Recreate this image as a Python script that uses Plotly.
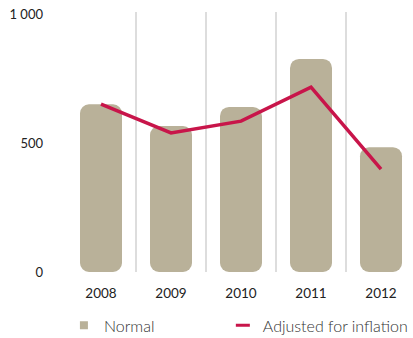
import plotly.graph_objects as go

years = ["2008", "2009", "2010", "2011", "2012"]
normal = [650, 566, 640, 826, 484]
adjusted = [651, 539, 585, 717, 399]
y_tickvals = [0, 500, 1000]
y_ticktext = ["0", "500", "1 000"]

BAR = "#b9b199"
LINE = "#c8154a"
TXT = "#222222"

fig = go.Figure()
fig.add_trace(go.Bar(x=years, y=normal, base=[0] * len(normal),
                     marker=dict(color=BAR, cornerradius=9, line=dict(width=0)),
                     width=0.6, name="Normal", hoverinfo="skip", showlegend=False))
fig.add_trace(go.Scatter(x=years, y=adjusted, mode="lines", line=dict(color=LINE, width=3.5),
                         name="Adjusted for inflation", showlegend=False))
# legend entries (small symbols as in the reference)
fig.add_trace(go.Scatter(x=[None], y=[None], mode="markers", name="Normal", legend="legend",
                         marker=dict(symbol="square", size=8, color=BAR)))
fig.add_trace(go.Scatter(x=[None], y=[None], mode="markers", name="Adjusted for inflation",
                         legend="legend2",
                         marker=dict(symbol="line-ew", size=10, color=LINE,
                                     line=dict(color=LINE, width=3))))

leg_common = dict(orientation="h", y=-0.14, xanchor="left", yanchor="top",
                  font=dict(size=16, color="#333333", weight=300), itemwidth=30,
                  bgcolor="rgba(0,0,0,0)")

fig.update_layout(
    width=413, height=338,
    margin=dict(l=66, r=0, t=12, b=66, autoexpand=False),
    barmode="overlay",
    plot_bgcolor="white", paper_bgcolor="white",
    font=dict(family="Lato", size=13, color=TXT, weight=300),
    xaxis=dict(type="category", range=[-0.5, 4.457], tickson="boundaries", showgrid=True,
               gridcolor="#dddddd", gridwidth=1.5, ticks="", showline=False, zeroline=False,
               tickfont=dict(size=13.5, weight=400, color=TXT), ticklabelstandoff=11),
    yaxis=dict(range=[0, 1008], tickvals=y_tickvals, ticktext=y_ticktext, showgrid=False,
               zeroline=False, showline=False, ticks="", ticklabelstandoff=22,
               tickfont=dict(size=13, weight=400, color=TXT)),
    legend=dict(x=-0.006, **leg_common),
    legend2=dict(x=0.452, **leg_common),
)
fig.write_html("out.html")
